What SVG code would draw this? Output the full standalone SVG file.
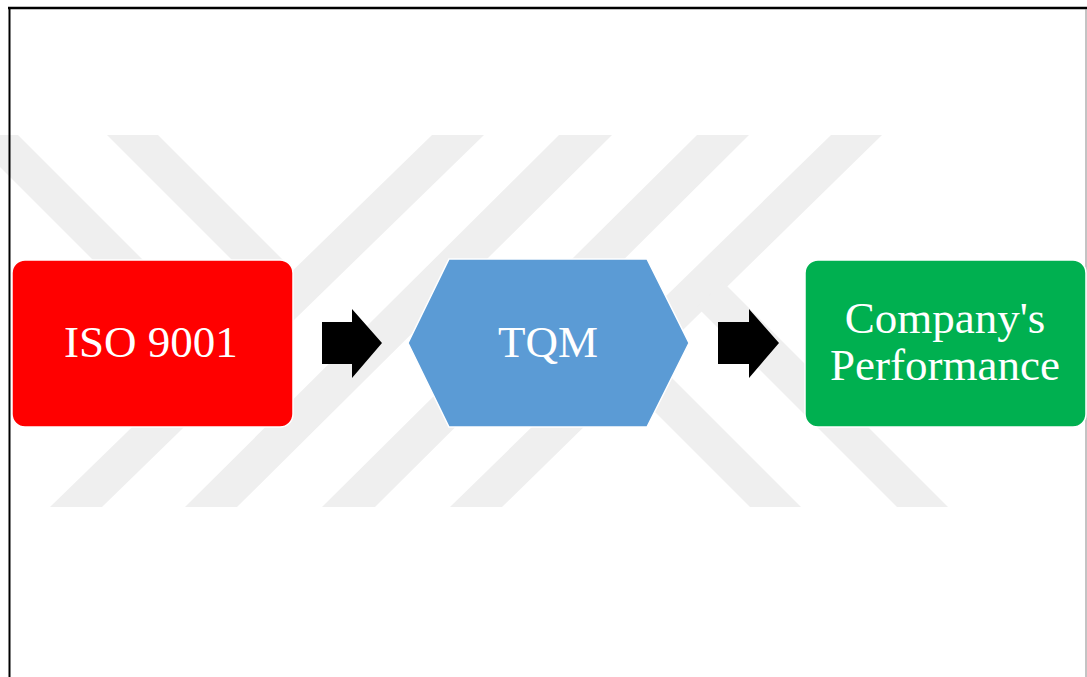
<svg xmlns="http://www.w3.org/2000/svg" width="1087" height="677" viewBox="0 0 1087 677">
<style>
.wm{fill:#efefef}
.node{stroke:#ffffff;stroke-width:1.5}
.lbl{font-family:"Liberation Serif","Times New Roman",serif;font-size:45px;fill:#ffffff;text-anchor:middle}
.arrow{fill:#000000}
</style>
<rect x="0" y="0" width="1087" height="677" fill="#ffffff"/>
<g id="watermark">
<polygon class="wm" points="432,135 484,135 102,507 50,507"/>
<polygon class="wm" points="559,135 612,135 237,507 185,507"/>
<polygon class="wm" points="697,135 749,135 375,507 322,507"/>
<polygon class="wm" points="831,135 882,135 502,507 450,507"/>
<polygon class="wm" points="-32,135 18,135 233,350 183,350"/>
<polygon class="wm" points="107,135 158,135 295,272 269,297"/>
<polygon class="wm" points="584,290 801,507 750,507 559,316"/>
<polygon class="wm" points="723,282 948,507 897,507 697,307"/>
</g>
<g id="frame" fill="none">
<line x1="8" y1="8" x2="1087" y2="8" stroke="#000" stroke-width="2.5"/>
<line x1="9.5" y1="7" x2="9.5" y2="677" stroke="#000" stroke-width="2"/>
<line x1="1086" y1="9" x2="1086" y2="677" stroke="#888" stroke-width="1"/>
</g>
<g id="connectors">
<polygon class="arrow" points="322,322 352,322 352,309 382,343 352,378 352,364 322,364"/>
<polygon class="arrow" points="718,322 749,322 749,309 779,343 749,378 749,364 718,364"/>
</g>
<g id="iso9001">
<rect class="node" x="12" y="260" width="281" height="167" rx="13" fill="#ff0000"/>
<text class="lbl" x="151" y="357">ISO 9001</text>
</g>
<g id="tqm">
<polygon class="node" points="449,259 647,259 689,343 647,427 449,427 408,343" fill="#5b9bd5"/>
<text class="lbl" x="548" y="357">TQM</text>
</g>
<g id="performance">
<rect class="node" x="805" y="260" width="281" height="167" rx="13" fill="#00b050"/>
<text class="lbl" x="945" y="333">Company's</text>
<text class="lbl" x="945" y="380">Performance</text>
</g>
</svg>
